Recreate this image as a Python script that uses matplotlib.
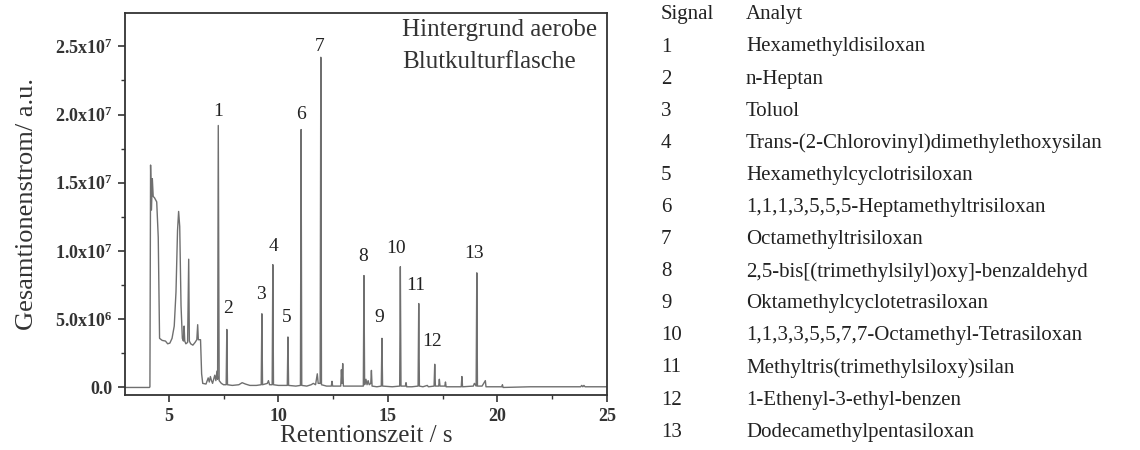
import matplotlib.pyplot as plt
from matplotlib.ticker import FuncFormatter, MultipleLocator, AutoMinorLocator

# total ion current trace: retention time (s) / intensity (1e6 a.u.)
rt = [3.0, 4.12, 4.14, 4.17, 4.21, 4.25, 4.29, 4.35, 4.45, 4.52, 4.58, 4.70,
      4.85, 4.95, 5.05, 5.15, 5.25, 5.33, 5.40, 5.45, 5.50, 5.56, 5.62, 5.67,
      5.70, 5.73, 5.78, 5.86, 5.91, 5.94, 6.00, 6.10, 6.20, 6.28, 6.32, 6.35,
      6.45, 6.50, 6.55, 6.70, 6.80, 6.85, 6.90, 6.95, 7.00, 7.10, 7.15, 7.20,
      7.23, 7.26, 7.30, 7.40, 7.50, 7.62, 7.65, 7.68, 7.90, 8.20, 8.35, 8.50,
      8.70, 9.00, 9.22, 9.25, 9.28, 9.50, 9.55, 9.60, 9.72, 9.75, 9.78, 10.00,
      10.41, 10.44, 10.47, 10.80, 11.01, 11.04, 11.07, 11.30, 11.50, 11.60,
      11.70, 11.78, 11.82, 11.91, 11.94, 11.97, 12.20, 12.42, 12.45, 12.48,
      12.85, 12.88, 12.91, 12.94, 12.97, 13.30, 13.50, 13.88, 13.91, 13.94,
      14.00, 14.05, 14.10, 14.15, 14.22, 14.25, 14.28, 14.50, 14.70, 14.73,
      14.76, 15.20, 15.54, 15.57, 15.60, 15.80, 15.83, 15.86, 16.10, 16.38,
      16.41, 16.44, 16.60, 16.80, 16.85, 17.11, 17.14, 17.17, 17.32, 17.35,
      17.38, 17.60, 17.63, 17.66, 18.35, 18.38, 18.41, 18.90, 18.95, 19.03,
      19.06, 19.09, 19.30, 19.45, 19.48, 20.20, 20.23, 20.26, 21.50, 23.80,
      23.85, 23.90, 23.95, 24.00, 25.0]
tic = [0.0, 0.0, 0.05, 16.3, 13.0, 15.3, 14.0, 13.9, 13.6, 11.0, 3.6, 3.45,
       3.4, 3.2, 3.25, 3.6, 4.5, 7.0, 11.5, 12.9, 11.8, 6.0, 3.6, 3.4,
       4.5, 3.4, 3.2, 3.3, 9.4, 3.4, 3.2, 3.1, 3.3, 3.5, 4.6, 3.5,
       3.5, 1.0, 0.3, 0.25, 0.7, 0.4, 0.8, 0.5, 0.3, 0.9, 0.5, 1.2,
       0.6, 19.2, 0.5, 0.3, 0.2, 0.2, 4.25, 0.2, 0.15, 0.2, 0.35, 0.25,
       0.15, 0.15, 0.2, 5.4, 0.2, 0.3, 0.5, 0.2, 0.2, 9.0, 0.2, 0.15,
       0.15, 3.7, 0.15, 0.1, 0.15, 18.9, 0.15, 0.1, 0.2, 0.3,
       0.2, 1.0, 0.3, 0.3, 24.2, 0.2, 0.1, 0.1, 0.45, 0.1,
       0.1, 1.3, 0.3, 1.75, 0.1, 0.1, 0.1, 0.1, 8.2, 0.2,
       0.6, 0.2, 0.5, 0.2, 0.3, 1.25, 0.1, 0.05, 0.1, 3.6,
       0.1, 0.05, 0.1, 8.85, 0.1, 0.1, 0.35, 0.05, 0.05, 0.1,
       6.15, 0.1, 0.05, 0.15, 0.05, 0.1, 1.7, 0.1, 0.1, 0.6,
       0.1, 0.1, 0.4, 0.05, 0.05, 0.8, 0.05, 0.1, 0.3, 0.1,
       8.4, 0.1, 0.1, 0.5, 0.05, 0.05, 0.2, 0.0, 0.05, 0.05,
       0.15, 0.05, 0.15, 0.05, 0.05]

# signal numbers and where their labels sit (rt, 1e6 a.u.)
signal_ids = ["1", "2", "3", "4", "5", "6", "7", "8", "9", "10", "11", "12", "13"]
label_rt = [7.26, 7.70, 9.20, 9.76, 10.40, 11.04, 11.89, 13.87, 14.60, 15.37,
            16.28, 17.01, 18.93]
label_tic = [20.2, 5.8, 6.8, 10.3, 5.1, 20.0, 25.0, 9.6, 5.1, 10.2, 7.5, 3.35, 9.8]

analytes = [
    "Hexamethyldisiloxan",
    "n-Heptan",
    "Toluol",
    "Trans-(2-Chlorovinyl)dimethylethoxysilan",
    "Hexamethylcyclotrisiloxan",
    "1,1,1,3,5,5,5-Heptamethyltrisiloxan",
    "Octamethyltrisiloxan",
    "2,5-bis[(trimethylsilyl)oxy]-benzaldehyd",
    "Oktamethylcyclotetrasiloxan",
    "1,1,3,3,5,5,7,7-Octamethyl-Tetrasiloxan",
    "Methyltris(trimethylsiloxy)silan",
    "1-Ethenyl-3-ethyl-benzen",
    "Dodecamethylpentasiloxan",
]

plt.rcParams['font.family'] = 'Liberation Serif'
plt.rcParams['mathtext.default'] = 'regular'

fig = plt.figure(figsize=(11.4, 4.5), dpi=100)
ax = fig.add_axes([0.1096, 0.122, 0.4228, 0.849])

ax.plot(rt, [v * 1e6 for v in tic], color='#6f6f6f', lw=1.0)

for s, x, y in zip(signal_ids, label_rt, label_tic):
    ax.text(x, y * 1e6, s, ha='center', va='center', fontsize=14, color='#222222')

ax.text(0.575, 0.955, "Hintergrund aerobe", transform=ax.transAxes,
        ha='left', va='center', fontsize=18, color='#333333')
ax.text(0.575, 0.872, "Blutkulturflasche", transform=ax.transAxes,
        ha='left', va='center', fontsize=18, color='#333333')

ax.set_xlim(3, 25)
ax.set_ylim(-5.6e5, 2.744e7)
ax.xaxis.set_major_locator(MultipleLocator(5))
ax.xaxis.set_minor_locator(AutoMinorLocator(2))
ax.yaxis.set_major_locator(MultipleLocator(5e6))
ax.yaxis.set_minor_locator(AutoMinorLocator(2))


def sci_fmt(v, pos):
    if v == 0:
        return "0.0"
    exp = 0
    m = v
    while m >= 10:
        m /= 10
        exp += 1
    return f"{m:.1f}x10$^{{{exp}}}$"


ax.yaxis.set_major_formatter(FuncFormatter(sci_fmt))
ax.tick_params(which='major', direction='out', length=5, width=1.2, colors='#333333',
               labelsize=13, pad=4)
ax.tick_params(which='minor', direction='out', length=3, width=1.0, colors='#333333')
for lab in ax.get_xticklabels() + ax.get_yticklabels():
    lab.set_fontweight('bold')
for sp in ax.spines.values():
    sp.set_linewidth(1.3)
    sp.set_color('#333333')

ax.set_xlabel("Retentionszeit / s", fontsize=18, color='#333333', labelpad=0)
ax.set_ylabel("Gesamtionenstrom/ a.u.", fontsize=19, color='#333333', labelpad=12)

# signal table
fs_tab = 15
fig.text(661 / 1140, 1 - 15 / 450, "Signal", fontsize=fs_tab, va='center', color='#222222')
fig.text(746 / 1140, 1 - 15 / 450, "Analyt", fontsize=fs_tab, va='center', color='#222222')
for i, (s, name) in enumerate(zip(signal_ids, analytes)):
    yy = 1 - (47 + i * 32.1) / 450
    fig.text(661 / 1140, yy, s, fontsize=fs_tab, va='center', color='#222222')
    fig.text(746 / 1140, yy, name, fontsize=fs_tab, va='center', color='#222222')

fig.savefig("out.png", dpi=100)
